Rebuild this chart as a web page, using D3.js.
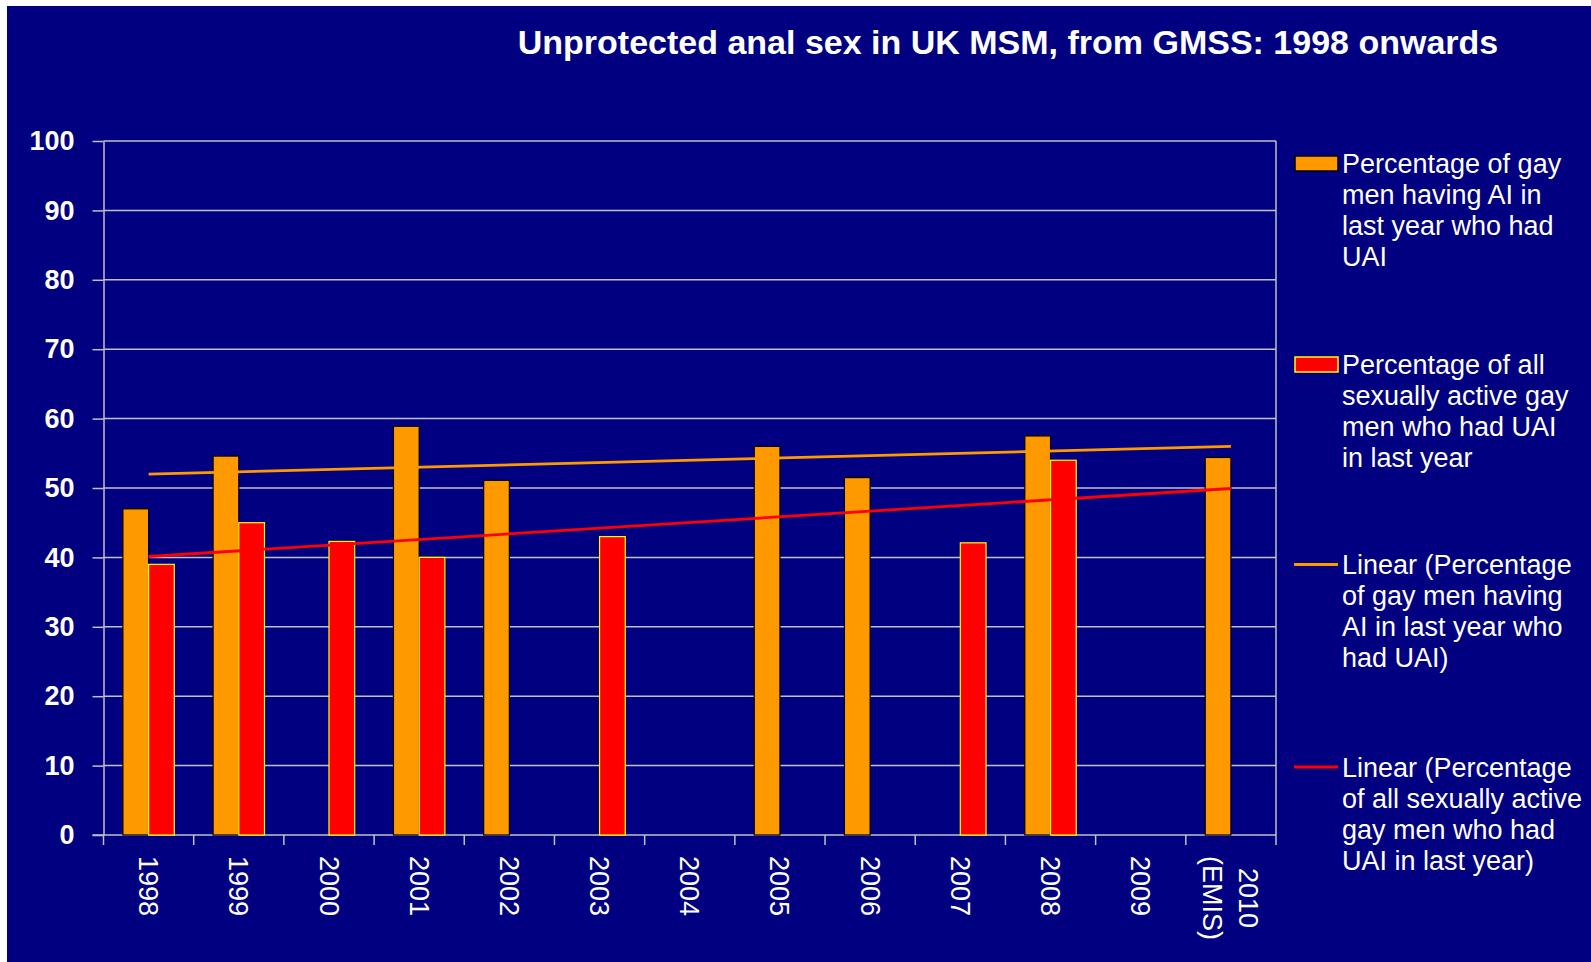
<!DOCTYPE html>
<html>
<head>
<meta charset="utf-8">
<script src="https://cdn.jsdelivr.net/npm/d3@7"></script>
<style>
  body { margin: 0; background: #fff; }
  svg text { font-family: "Liberation Sans", Arial, sans-serif; fill: #fff; }
</style>
</head>
<body>
<script>
// data
const categories = ["1998", "1999", "2000", "2001", "2002", "2003", "2004",
                    "2005", "2006", "2007", "2008", "2009", "2010\n(EMIS)"];
const anyAI = [47.0, 54.6, null, 58.9, 51.1, null, null, 56.0, 51.5, null, 57.5, null, 54.4];
const allActive = [39.0, 45.0, 42.3, 40.0, null, 43.0, null, null, null, 42.1, 54.0, null, null];
const yTicks = [0, 10, 20, 30, 40, 50, 60, 70, 80, 90, 100];

const title = "Unprotected anal sex in UK MSM, from GMSS: 1998 onwards";
const legendLabels = [
  ["Percentage of gay", "men having AI in", "last year who had", "UAI"],
  ["Percentage of all", "sexually active gay", "men who had UAI", "in last year"],
  ["Linear (Percentage", "of gay men having", "AI in last year who", "had UAI)"],
  ["Linear (Percentage", "of all sexually active", "gay men who had", "UAI in last year)"]
];

const W = 1591, H = 962;
const plot = { left: 103.5, right: 1276, top: 141, bottom: 835 };
const navy = "#000080", orange = "#ff9900", red = "#ff0000", grid = "#c0c0c8";

const svg = d3.select("body").append("svg")
  .attr("width", W).attr("height", H);

svg.append("rect")
  .attr("x", 7).attr("y", 6)
  .attr("width", W - 7).attr("height", H - 6)
  .attr("fill", navy);

svg.append("text")
  .attr("x", 1008).attr("y", 54)
  .attr("text-anchor", "middle")
  .style("font-size", "34px")
  .style("font-weight", "bold")
  .text(title);

const x = d3.scaleBand().domain(categories).range([plot.left, plot.right]).padding(0);
const y = d3.scaleLinear().domain([0, 100]).range([plot.bottom, plot.top]);
const bw = x.bandwidth();
const barW = bw * 0.285;
const cx = d => x(d) + bw / 2;

// gridlines
svg.append("g").selectAll("line")
  .data(yTicks.filter(t => t > 0))
  .enter().append("line")
  .attr("x1", plot.left).attr("x2", plot.right)
  .attr("y1", d => y(d)).attr("y2", d => y(d))
  .attr("stroke", grid).attr("stroke-width", 1.5);

// right border of plot area
svg.append("line")
  .attr("x1", plot.right).attr("x2", plot.right)
  .attr("y1", plot.top).attr("y2", plot.bottom)
  .attr("stroke", grid).attr("stroke-width", 1.5);

// y axis
const yAxis = svg.append("g")
  .attr("transform", `translate(${plot.left},0)`)
  .call(d3.axisLeft(y).tickValues(yTicks).tickSize(11).tickPadding(18).tickSizeOuter(0));
yAxis.select(".domain").attr("stroke", grid).attr("stroke-width", 1.5);
yAxis.selectAll(".tick line").attr("stroke", grid).attr("stroke-width", 1.5);
yAxis.selectAll(".tick text")
  .attr("fill", "#fff")
  .style("font-size", "27px")
  .style("font-weight", "bold")
  .style("font-family", "'Liberation Sans', Arial, sans-serif");

// x axis line and boundary ticks
svg.append("line")
  .attr("x1", plot.left - 11).attr("x2", plot.right)
  .attr("y1", plot.bottom).attr("y2", plot.bottom)
  .attr("stroke", grid).attr("stroke-width", 1.5);

const bounds = categories.map(c => x(c)).concat([plot.right]);
svg.append("g").selectAll("line")
  .data(bounds)
  .enter().append("line")
  .attr("x1", d => d).attr("x2", d => d)
  .attr("y1", plot.bottom).attr("y2", plot.bottom + 10)
  .attr("stroke", grid).attr("stroke-width", 1.5);

// x labels, rotated 90deg, multi-line blocks centered on the category
const xl = svg.append("g");
categories.forEach(c => {
  const lines = c.split("\n");
  const g = xl.append("g");
  const texts = lines.map((s, i) => g.append("text")
    .attr("y", (i - (lines.length - 1) / 2) * 36)
    .attr("dy", "0.35em")
    .attr("text-anchor", "middle")
    .style("font-size", "27px")
    .text(s));
  const maxLen = d3.max(texts, t => t.node().getComputedTextLength());
  texts.forEach(t => t.attr("x", maxLen / 2));
  g.attr("transform", `translate(${cx(c)},856) rotate(90)`);
});

// bars
const orangeData = categories.map((c, i) => ({ c, v: anyAI[i] })).filter(d => d.v != null);
const redData = categories.map((c, i) => ({ c, v: allActive[i] })).filter(d => d.v != null);

svg.append("g").selectAll("rect")
  .data(orangeData)
  .enter().append("rect")
  .attr("x", d => cx(d.c) - barW)
  .attr("y", d => y(d.v))
  .attr("width", barW)
  .attr("height", d => plot.bottom - y(d.v))
  .attr("fill", orange)
  .attr("stroke", "#000").attr("stroke-width", 1.2);

svg.append("g").selectAll("rect")
  .data(redData)
  .enter().append("rect")
  .attr("x", d => cx(d.c))
  .attr("y", d => y(d.v))
  .attr("width", barW)
  .attr("height", d => plot.bottom - y(d.v))
  .attr("fill", red)
  .attr("stroke", "#ffff00").attr("stroke-width", 1.2);

// linear trendlines (least squares on category index, like the spreadsheet)
function trend(vals) {
  const pts = vals.map((v, i) => [i + 1, v]).filter(p => p[1] != null);
  const mx = d3.mean(pts, p => p[0]), my = d3.mean(pts, p => p[1]);
  const sxy = d3.sum(pts, p => (p[0] - mx) * (p[1] - my));
  const sxx = d3.sum(pts, p => (p[0] - mx) ** 2);
  const b = sxy / sxx, a = my - b * mx;
  return [1, vals.length].map(i => ({ c: categories[i - 1], v: a + b * i }));
}
const line = d3.line().x(d => cx(d.c)).y(d => y(d.v));
svg.append("path").datum(trend(anyAI))
  .attr("d", line).attr("fill", "none")
  .attr("stroke", orange).attr("stroke-width", 2.8);
svg.append("path").datum(trend(allActive))
  .attr("d", line).attr("fill", "none")
  .attr("stroke", red).attr("stroke-width", 2.8);

// legend
const legendY = [163.5, 364.5, 564.5, 767];
const legend = svg.append("g");
legendLabels.forEach((lines, k) => {
  const g = legend.append("g").attr("transform", `translate(0,${legendY[k]})`);
  if (k < 2) {
    g.append("rect")
      .attr("x", 1295).attr("y", -7.5)
      .attr("width", 43).attr("height", 15)
      .attr("fill", k === 0 ? orange : red)
      .attr("stroke", k === 0 ? "#000" : "#ffff00").attr("stroke-width", 1.5);
  } else {
    g.append("line")
      .attr("x1", 1294).attr("x2", 1338)
      .attr("y1", 0).attr("y2", 0)
      .attr("stroke", k === 2 ? orange : red).attr("stroke-width", 3);
  }
  lines.forEach((s, i) => {
    g.append("text")
      .attr("x", 1342)
      .attr("y", 9.5 + i * 31)
      .style("font-size", "27px")
      .text(s);
  });
});
</script>
</body>
</html>
